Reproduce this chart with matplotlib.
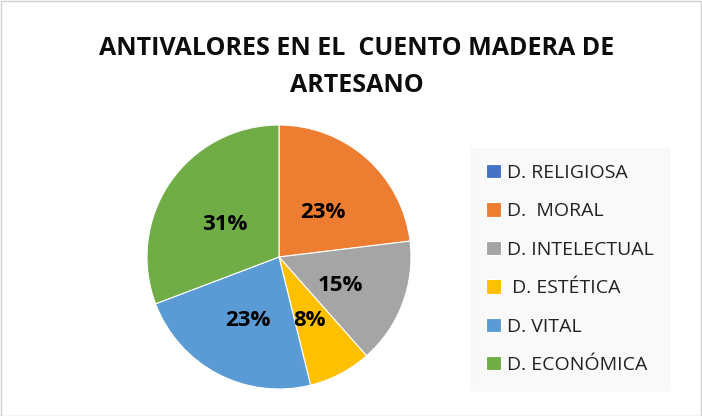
import matplotlib.pyplot as plt
from matplotlib.patches import Rectangle

# Data (counts -> 0%, 23%, 15%, 8%, 23%, 31%)
labels = ["D. RELIGIOSA", "D.  MORAL", "D. INTELECTUAL", " D. ESTÉTICA", "D. VITAL", "D. ECONÓMICA"]
counts = [0, 3, 2, 1, 3, 4]
colors = ["#4472c4", "#ed7d31", "#a5a5a5", "#ffc000", "#5b9bd5", "#70ad47"]
title = "ANTIVALORES EN EL  CUENTO MADERA DE\nARTESANO"

plt.rcParams["font.family"] = ["Open Sans", "DejaVu Sans"]

W, H = 702, 416
fig = plt.figure(figsize=(W / 100, H / 100), dpi=100)
fig.patch.set_facecolor("white")

# outer border
fig.add_artist(Rectangle((0.5 / W, 0.5 / H), 1 - 1.5 / W, 1 - 1.5 / H, transform=fig.transFigure,
                         fill=False, edgecolor="#d0d0d0", linewidth=1))

fig.text(357 / W, 1 - 67 / H, title, ha="center", va="center", fontsize=18,
         fontweight="bold", linespacing=1.65, color="#0d0d0d")

# pie
cx, cy, r = 279, 257, 132
ax = fig.add_axes([(cx - r) / W, 1 - (cy + r) / H, 2 * r / W, 2 * r / H])


def fmt(p):
    return f"{p:.0f}%" if p > 0.5 else ""


wedges, _, autotexts = ax.pie(counts, colors=colors, startangle=90, counterclock=False,
                              autopct=fmt, pctdistance=0.5,
                              wedgeprops=dict(edgecolor="white", linewidth=0.8),
                              textprops=dict(fontsize=16, fontweight="bold", color="black"))
# Excel puts the labels a touch lower
for t in autotexts:
    x, y = t.get_position()
    t.set_position((x, y - 0.04))
ax.set_xlim(-1, 1)
ax.set_ylim(-1, 1)
ax.set_aspect("equal")

# legend
leg = fig.legend(wedges, labels, loc="center", bbox_to_anchor=(570 / W, 1 - 269 / H),
                 frameon=True, fontsize=14, handlelength=0.75, handleheight=0.75,
                 handletextpad=0.3, labelspacing=1.05, borderpad=0.8,
                 facecolor="#f8f8f8", edgecolor="#f8f8f8", fancybox=False)
for t in leg.get_texts():
    t.set_color("#222222")

fig.savefig("out.png", dpi=100)
